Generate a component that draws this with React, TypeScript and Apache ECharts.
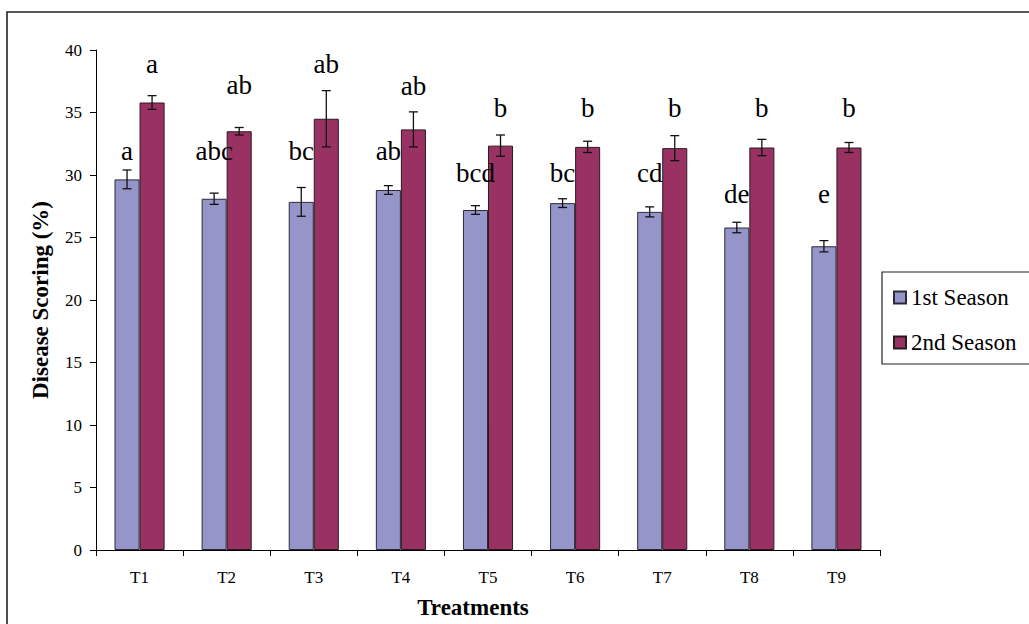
import React, { useEffect, useRef } from "react";
import * as echarts from "echarts";

const categories = ["T1", "T2", "T3", "T4", "T5", "T6", "T7", "T8", "T9"];
const season1 = [29.65, 28.1, 27.85, 28.8, 27.2, 27.75, 27.05, 25.8, 24.3];
const season1Err = [0.75, 0.45, 1.15, 0.35, 0.35, 0.35, 0.4, 0.42, 0.45];
const season2 = [35.8, 33.5, 34.5, 33.65, 32.35, 32.25, 32.15, 32.2, 32.2];
const season2Err = [0.55, 0.3, 2.25, 1.4, 0.85, 0.45, 1.0, 0.65, 0.4];
const letters1 = ["a", "abc", "bc", "ab", "bcd", "bc", "cd", "de", "e"];
const letters1Height = [31.9, 31.9, 31.9, 31.9, 30.2, 30.2, 30.2, 28.5, 28.5];
const letters2 = ["a", "ab", "ab", "ab", "b", "b", "b", "b", "b"];
const letters2Height = [38.9, 37.2, 38.9, 37.15, 35.4, 35.4, 35.4, 35.4, 35.4];
const seriesNames = ["1st Season", "2nd Season"];

const FONT = "Liberation Serif";
const GAP = 0.425;

export default function App() {
  const ref = useRef<HTMLDivElement>(null);
  useEffect(() => {
    if (!ref.current) return;
    const chart = echarts.init(ref.current, null, { renderer: "svg" });

    const barOffset = (api: any, which: number) => {
      const band = api.size([1, 0])[0];
      const bw = (band * (1 - GAP)) / 2;
      return which === 0 ? -bw / 2 : bw / 2;
    };

    const errorSeries = (vals: number[], errs: number[], which: number) => ({
      type: "custom",
      silent: true,
      z: 10,
      data: vals.map((v, i) => [i, v, errs[i]]),
      encode: { x: 0, y: 1 },
      renderItem: (params: any, api: any) => {
        const i = api.value(0);
        const v = api.value(1);
        const e = api.value(2);
        const top = api.coord([i, v + e]);
        const bot = api.coord([i, v - e]);
        const x = top[0] + barOffset(api, which);
        const cap = 4.5;
        const st = { stroke: "#111", lineWidth: 1.3 };
        return {
          type: "group",
          children: [
            { type: "line", shape: { x1: x, y1: top[1], x2: x, y2: bot[1] }, style: st },
            { type: "line", shape: { x1: x - cap, y1: top[1], x2: x + cap, y2: top[1] }, style: st },
            { type: "line", shape: { x1: x - cap, y1: bot[1], x2: x + cap, y2: bot[1] }, style: st },
          ],
        };
      },
    });

    const letterSeries = (letters: string[], heights: number[], which: number) => ({
      type: "custom",
      silent: true,
      z: 11,
      data: heights.map((h, i) => [i, h]),
      encode: { x: 0, y: 1 },
      renderItem: (params: any, api: any) => {
        const i = api.value(0);
        const h = api.value(1);
        const p = api.coord([i, h]);
        return {
          type: "text",
          x: p[0] + barOffset(api, which),
          y: p[1],
          style: {
            text: letters[params.dataIndex],
            fontFamily: FONT,
            fontSize: 27,
            fill: "#000",
            align: "center",
            verticalAlign: "middle",
          },
        };
      },
    });

    chart.setOption({
      animation: false,
      backgroundColor: "#fff",
      textStyle: { fontFamily: FONT },
      grid: { left: 96, top: 50, right: 149, bottom: 74, containLabel: false },
      legend: {
        orient: "vertical",
        left: 893,
        top: 286,
        padding: 0,
        itemGap: 22,
        itemWidth: 12,
        itemHeight: 12,
        icon: "rect",
        data: seriesNames,
        textStyle: { fontFamily: FONT, fontSize: 23, color: "#000" },
      },
      xAxis: {
        type: "category",
        data: categories,
        axisLine: { lineStyle: { color: "#000", width: 1 } },
        axisTick: { show: true, length: 6, lineStyle: { color: "#000" } },
        axisLabel: { margin: 19, fontFamily: FONT, fontSize: 17, color: "#000" },
        splitLine: { show: false },
      },
      yAxis: {
        type: "value",
        min: 0,
        max: 40,
        interval: 5,
        axisLine: { show: true, lineStyle: { color: "#000", width: 1 } },
        axisTick: { show: true, length: 6, lineStyle: { color: "#000" } },
        axisLabel: { margin: 14, fontFamily: FONT, fontSize: 17, color: "#000" },
        splitLine: { show: false },
      },
      graphic: [
        {
          type: "rect",
          shape: { x: 7, y: 12, width: 1200, height: 800 },
          style: { fill: "none", stroke: "#222", lineWidth: 1.6 },
          silent: true,
          z: 0,
        },
        {
          type: "rect",
          shape: { x: 882, y: 272, width: 300, height: 92 },
          style: { fill: "none", stroke: "#222", lineWidth: 1.2 },
          silent: true,
        },
        {
          type: "text",
          x: 473,
          y: 607,
          style: {
            text: "Treatments",
            fontFamily: FONT,
            fontWeight: "bold",
            fontSize: 23,
            fill: "#000",
            align: "center",
            verticalAlign: "middle",
          },
        },
        {
          type: "text",
          x: 40,
          y: 300,
          rotation: Math.PI / 2,
          style: {
            text: "Disease Scoring (%)",
            fontFamily: FONT,
            fontWeight: "bold",
            fontSize: 23,
            fill: "#000",
            align: "center",
            verticalAlign: "middle",
          },
        },
      ],
      series: [
        {
          name: seriesNames[0],
          type: "bar",
          data: season1,
          barGap: "0%",
          barCategoryGap: GAP * 100 + "%",
          itemStyle: { color: "#9595C9", borderColor: "#2a2a3a", borderWidth: 1 },
        },
        {
          name: seriesNames[1],
          type: "bar",
          data: season2,
          barGap: "0%",
          barCategoryGap: GAP * 100 + "%",
          itemStyle: { color: "#993263", borderColor: "#2a1a20", borderWidth: 1 },
        },
        errorSeries(season1, season1Err, 0),
        errorSeries(season2, season2Err, 1),
        letterSeries(letters1, letters1Height, 0),
        letterSeries(letters2, letters2Height, 1),
      ],
    });
    return () => chart.dispose();
  }, []);
  return (
    <div
      ref={ref}
      style={{ position: "fixed", left: 0, top: 0, width: 1029, height: 624, background: "#fff" }}
    />
  );
}
